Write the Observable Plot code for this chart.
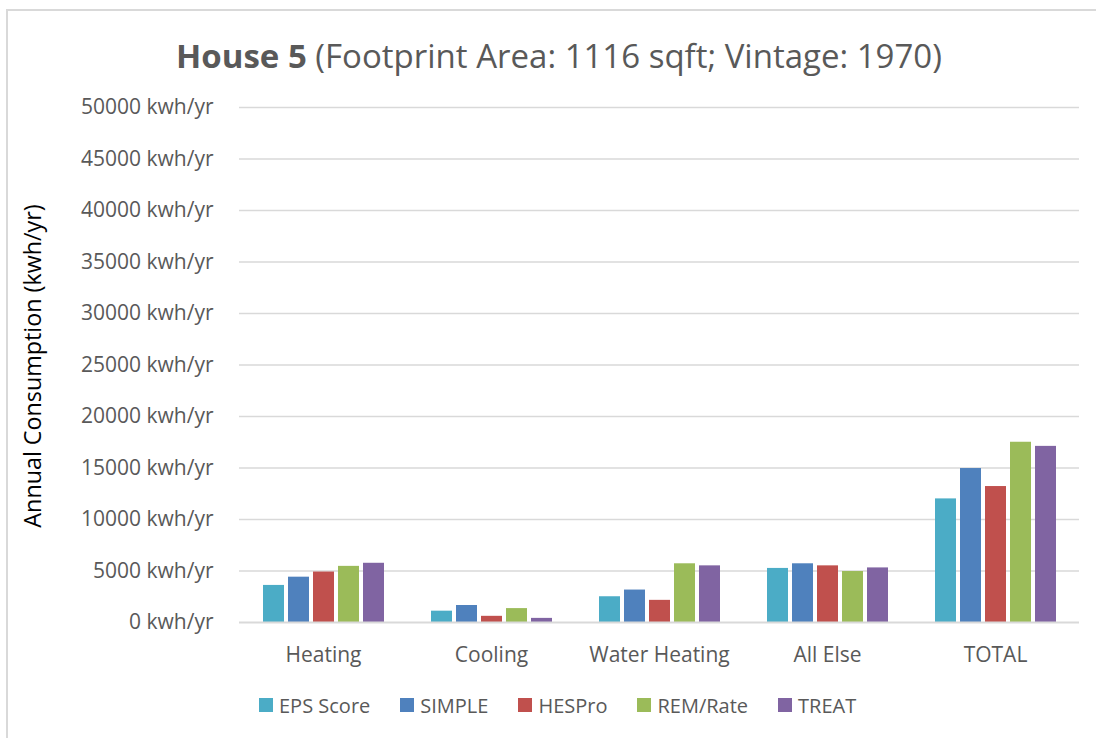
<!DOCTYPE html>
<html>
<head>
<meta charset="utf-8">
<script src="https://cdn.jsdelivr.net/npm/d3@7"></script>
<script src="https://cdn.jsdelivr.net/npm/@observablehq/plot@0.6"></script>
<style>
  html, body { margin: 0; padding: 0; background: #fff; }
  body { width: 1096px; height: 738px; overflow: hidden; position: relative; font-family: 'Open Sans', sans-serif; }
  #frame { position: absolute; left: 6px; top: 9px; width: 1200px; height: 800px; border-left: 2px solid #D9D9D9; border-top: 2px solid #D9D9D9; }
  #title { position: absolute; left: 0; top: 33px; width: 1118px; text-align: center; font-size: 33px; color: #595959; line-height: 46px; white-space: nowrap; }
  #title b { font-weight: 700; }
  #ytitle { position: absolute; left: 32px; top: 366px; transform: translate(-50%, -50%) rotate(-90deg); font-size: 23.3px; color: #000; white-space: nowrap; line-height: 26px; }
  #chart { position: absolute; left: 0; top: 90px; }
  #legend { position: absolute; left: 259px; top: 690px; display: flex; align-items: center; height: 30px; font-size: 20px; color: #595959; white-space: nowrap; }
  #legend .item { display: flex; align-items: center; margin-right: 30px; }
  #legend .sw { width: 14px; height: 14px; margin-right: 6px; }
</style>
</head>
<body>
<div id="frame"></div>
<div id="title"><b>House 5</b> (Footprint Area: 1116 sqft; Vintage: 1970)</div>
<div id="ytitle">Annual Consumption (kwh/yr)</div>
<div id="chart"></div>
<div id="legend"></div>
<script>
const categories = ["Heating", "Cooling", "Water Heating", "All Else", "TOTAL"];
const seriesNames = ["EPS Score", "SIMPLE", "HESPro", "REM/Rate", "TREAT"];
const seriesColors = ["#4BACC6", "#4F81BD", "#C0504D", "#9BBB59", "#8064A2"];
const epsScore = [3600, 1100, 2500, 5250, 12000];
const simple   = [4400, 1650, 3150, 5700, 14950];
const hesPro   = [4900, 600, 2150, 5500, 13200];
const remRate  = [5450, 1350, 5700, 4950, 17500];
const treat    = [5750, 400, 5500, 5300, 17100];
const yTicks = [0, 5000, 10000, 15000, 20000, 25000, 30000, 35000, 40000, 45000, 50000];

const seriesValues = [epsScore, simple, hesPro, remRate, treat];
const data = [];
categories.forEach((c, i) => {
  seriesNames.forEach((s, j) => {
    data.push({category: c, series: s, value: seriesValues[j][i]});
  });
});

const chart = Plot.plot({
  width: 1096,
  height: 600,
  marginLeft: 238,
  marginRight: 16,
  marginTop: 17,
  marginBottom: 68,
  style: {fontFamily: "'Open Sans', sans-serif", fontSize: "21px", color: "#595959", background: "transparent"},
  fx: {domain: categories, padding: 0, label: null, axis: "bottom", tickSize: 0, tickPadding: 25},
  x: {domain: seriesNames, axis: null, paddingInner: 0.18, paddingOuter: 0.855},
  y: {domain: [0, 50000], ticks: yTicks, tickFormat: d => d + " kwh/yr", label: null, tickSize: 0, tickPadding: 26},
  color: {domain: seriesNames, range: seriesColors},
  marks: [
    Plot.ruleY(yTicks.filter(d => d > 0), {stroke: "#D9D9D9", strokeWidth: 1.5}),
    Plot.barY(data, {fx: "category", x: "series", y: "value", fill: "series"}),
    Plot.ruleY([0], {stroke: "#D9D9D9", strokeWidth: 2})
  ]
});
document.getElementById("chart").appendChild(chart);

const legend = document.getElementById("legend");
seriesNames.forEach((s, j) => {
  const item = document.createElement("div");
  item.className = "item";
  const sw = document.createElement("div");
  sw.className = "sw";
  sw.style.background = seriesColors[j];
  const t = document.createElement("span");
  t.textContent = s;
  item.appendChild(sw);
  item.appendChild(t);
  legend.appendChild(item);
});
</script>
</body>
</html>
